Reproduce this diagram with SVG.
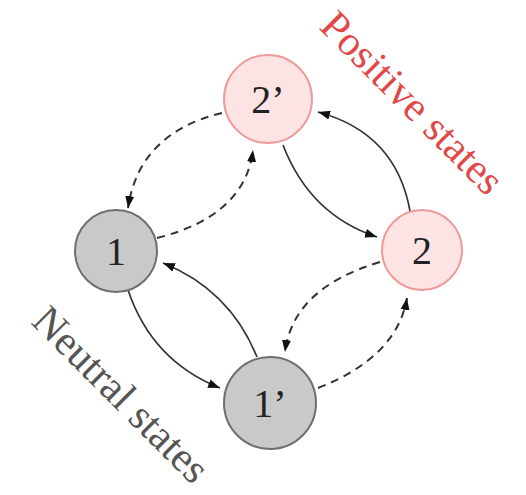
<svg xmlns="http://www.w3.org/2000/svg" width="526" height="495" viewBox="0 0 526 495">
<style>
.pos circle{fill:#fde3e3;stroke:#ef9a9a;stroke-width:2}
.neu circle{fill:#c9c9c9;stroke:#6e6e6e;stroke-width:2}
.lbl{font-family:"Liberation Serif","Times New Roman",serif;font-size:40px;fill:#222;text-anchor:middle}
.e{fill:none;stroke:#333;stroke-width:1.7;marker-end:url(#ah)}
.d{stroke-dasharray:8 6;stroke-width:2}
.grp{font-family:"Liberation Serif","Times New Roman",serif;font-size:42px}
</style>
<defs>
<marker id="ah" markerUnits="userSpaceOnUse" markerWidth="12" markerHeight="9" refX="12" refY="4.5" orient="auto">
<path d="M0,0 L12,4.5 L0,9 z" fill="#111"/>
</marker>
</defs>
<rect width="526" height="495" fill="#fff"/>
<g id="connectors">
<path class="e d" d="M222,113 Q139,133 128,208"/>
<path class="e d" d="M157,238 Q245,216 253,150"/>
<path class="e" d="M283,145 Q310,215 377,237"/>
<path class="e" d="M410,211 Q396,133 318,112"/>
<path class="e" d="M128,290 Q152,361 220,388"/>
<path class="e" d="M257,357 Q230,290 163,263"/>
<path class="e d" d="M380,262 Q293,288 285,352"/>
<path class="e d" d="M318,388 Q397,357 407,298"/>
</g>
<g id="node-2p" class="pos"><circle cx="268" cy="99" r="44"/><text class="lbl" x="268" y="113">2’</text></g>
<g id="node-1" class="neu"><circle cx="116" cy="251" r="41"/><text class="lbl" x="116" y="265">1</text></g>
<g id="node-2" class="pos"><circle cx="422" cy="250" r="40"/><text class="lbl" x="422" y="264">2</text></g>
<g id="node-1p" class="neu"><circle cx="270" cy="403" r="46"/><text class="lbl" x="270" y="417">1’</text></g>
<text class="grp" fill="#e04848" transform="translate(318,28) rotate(45)">Positive states</text>
<text class="grp" fill="#555" transform="translate(30,323) rotate(45)">Neutral states</text>
</svg>
